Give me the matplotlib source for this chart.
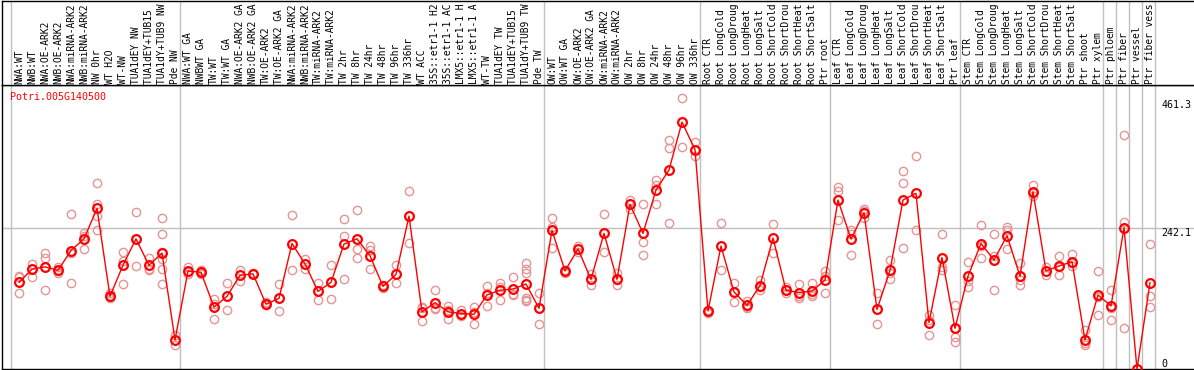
import matplotlib
matplotlib.use("Agg")
import matplotlib.pyplot as plt
import matplotlib.transforms as mtransforms


gene = "Potri.005G140500"

samples = [
    "NWA:WT", "NWB:WT", "NWA:OE-ARK2", "NWB:OE-ARK2", "NWA:miRNA-ARK2",
    "NWB:miRNA-ARK2", "NW 0hr", "WT H2O", "WT-NW", "TUA1dEY NW",
    "TUA1dEY+TUB15 NW", "TUA1dY+TUB9 NW", "Pde NW",
    "NWA:WT GA", "NWBWT GA", "TW:WT", "TW:WT GA", "NWA:OE-ARK2 GA",
    "NWB:OE-ARK2 GA", "TW:OE-ARK2", "TW:OE-ARK2 GA", "NWA:miRNA-ARK2 GA",
    "NWB:miRNA-ARK2 GA", "TW:miRNA-ARK2", "TW:miRNA-ARK2 GA", "TW 2hr",
    "TW 8hr", "TW 24hr", "TW 48hr", "TW 96hr", "TW 336hr", "WT ACC",
    "35S::etr1-1 H2O", "35S::etr1-1 ACC", "LMX5::etr1-1 H2O",
    "LMX5::etr1-1 ACC", "WT-TW", "TUA1dEY TW", "TUA1dEY+TUB15 TW",
    "TUA1dY+TUB9 TW", "Pde TW",
    "OW:WT", "OW:WT GA", "OW:OE-ARK2", "OW:OE-ARK2 GA", "OW:miRNA-ARK2",
    "OW:miRNA-ARK2 GA", "OW 2hr", "OW 8hr", "OW 24hr", "OW 48hr", "OW 96hr",
    "OW 336hr",
    "Root CTR", "Root LongCold", "Root LongDrought", "Root LongHeat",
    "Root LongSalt", "Root ShortCold", "Root ShortDrought", "Root ShortHeat",
    "Root ShortSalt", "Ptr root",
    "Leaf CTR", "Leaf LongCold", "Leaf LongDrought", "Leaf LongHeat",
    "Leaf LongSalt", "Leaf ShortCold", "Leaf ShortDrought", "Leaf ShortHeat",
    "Leaf ShortSalt", "Ptr leaf",
    "Stem CTR", "Stem LongCold", "Stem LongDrought", "Stem LongHeat",
    "Stem LongSalt", "Stem ShortCold", "Stem ShortDrought", "Stem ShortHeat",
    "Stem ShortSalt", "Ptr shoot", "Ptr xylem",
    "Ptr phloem", "Ptr fiber", "Ptr vessel", "Ptr fiber vessel",
]

means = [
    148.5, 171, 175, 169, 203, 223, 275, 124.5, 178, 223, 177.6, 198.7, 49.7,
    168, 165.6, 106, 124.5, 160.5, 163, 111, 121, 215, 180, 133, 148.5, 214,
    223, 194, 141.6, 162, 262, 98, 113.6, 98, 95, 93.7, 127, 135, 137, 145.6,
    104,
    237.6, 168, 205.6, 153.6, 232.4, 153.6, 282, 232.4, 306.7, 341, 423, 376,
    99.4, 210.7, 132, 109, 143, 224.4, 135, 131, 133.6, 152.5,
    289.5, 222.7, 268, 102, 169, 289.5, 301, 79.4, 191, 69.7,
    159, 215, 186.7, 228.4, 159, 303.8, 168, 176.5, 184, 49.7, 126.8,
    108, 242, 0, 148,
]

replicates = [
    [158, 160, 130], [180, 171, 158], [199, 191, 135], [175, 164, 168],
    [265, 198, 148], [233, 228, 205], [318, 283, 262, 239], [130, 124, 121],
    [200, 185, 146], [269, 176, 223], [191, 170, 172],
    [258, 232, 200, 188, 172, 145], [58, 41],
    [174, 167, 163], [170, 162, 165], [120, 112, 86], [148, 101], [170, 151],
    [165, 162, 162], [114, 110, 109], [145, 99], [264, 170], [188, 172],
    [148, 118], [178, 120], [257, 228, 155], [272, 206, 190], [210, 204, 171],
    [144, 138], [178, 148], [305, 216], [107, 82, 104], [135, 104, 102],
    [108, 85, 101], [101, 90, 94], [107, 76.5, 98], [142, 108, 130],
    [148, 141, 119], [157, 128, 126], [181, 172, 165, 122, 118, 116],
    [131, 76.5],
    [258, 208, 244], [170, 165, 169], [210, 201], [162, 144], [265, 200],
    [164, 144, 153], [290, 282, 274], [282, 217, 195], [323, 316, 282],
    [393, 378, 251], [464, 380], [389, 365, 375],
    [101, 96.5], [251, 170], [148, 115], [117, 104, 107], [152, 135, 141],
    [248, 198], [141, 131, 135], [146, 125, 121], [148, 125, 128],
    [168, 159, 130],
    [312, 305, 255], [239, 195, 232], [274, 258, 270], [131, 76.5],
    [187, 155, 164], [339, 318, 208], [365, 238], [92, 59, 84],
    [231, 175, 170], [110, 55, 46],
    [184, 150, 140], [247, 191, 210], [231, 194, 135], [243, 238, 205],
    [182, 152, 144], [315, 301, 296], [175, 161], [194, 161, 175],
    [197, 176, 181], [66, 41, 44], [168, 92, 123],
    [135, 84, 104], [401, 252, 71], [0], [214, 125, 106],
]

group_sizes = [13, 28, 12, 10, 10, 11, 1, 1, 1, 1]
scale_labels = ["461.3", "242.1", "0"]
scale_values = [461.3, 242.1, 0]

W, H = 1194, 370
font = "DejaVu Sans Mono"
fs = 7.2
grid_col = "#c0c0c0"
max_chars = 14  # the label strip only has room for this many

fig = plt.figure(figsize=(W / 100, H / 100), dpi=100)
ax = fig.add_axes([2 / W, 1 / H, 1 - 2 / W, 284 / H])
ax_lab = fig.add_axes([2 / W, 285 / H, 1 - 2 / W, 84.5 / H], sharex=ax)

ax.set_xlim((2 - 19) / 13, (W - 19) / 13)
ax.set_ylim(0, 486.6)
ax_lab.set_ylim(0, 1)

for a in (ax, ax_lab):
    a.set_xticks([])
    a.set_yticks([])
    a.spines["right"].set_visible(False)
    for s in ("left", "top", "bottom"):
        a.spines[s].set_color("black")
        a.spines[s].set_linewidth(1.0)

# group separators
seps = [-0.65]
pos = 0
for n in group_sizes:
    pos += n
    seps.append(pos - 1 + 0.4)
for s in seps:
    ax.axvline(s, color=grid_col, lw=1.0, zorder=0)
    ax_lab.axvline(s, color=grid_col, lw=1.0, zorder=0)

ax.axhline(scale_values[1], color=grid_col, lw=1.0, zorder=0)

# replicate points
for i, reps in enumerate(replicates):
    ax.plot([i] * len(reps), reps, linestyle="none", marker="o", ms=6,
            mfc="none", mec="#e89494", mew=1.0, zorder=2)

x = list(range(len(means)))
ax.plot(x, means, color="red", lw=1.0, zorder=3)
ax.plot(x, means, linestyle="none", marker="o", ms=6.3, mfc="none",
        mec="red", mew=1.6, zorder=4)

# sample labels, shortened to what fits in the strip
trans = mtransforms.blended_transform_factory(ax_lab.transData, ax_lab.transAxes)
for i, name in enumerate(samples):
    ax_lab.text(i, 0.01, name[:max_chars], rotation=90, ha="center",
                va="bottom", family=font, fontsize=6.95, transform=trans)

# scale labels on the right
for lab, v in zip(scale_labels, scale_values):
    ax.text(87.9, v, lab, ha="left", va="bottom" if v == 0 else "top",
            family=font, fontsize=fs, color="black")

ax.text(-0.7, 466, gene, ha="left", va="center", family=font,
        fontsize=fs, color="red")

fig.savefig("out.png", dpi=100)
